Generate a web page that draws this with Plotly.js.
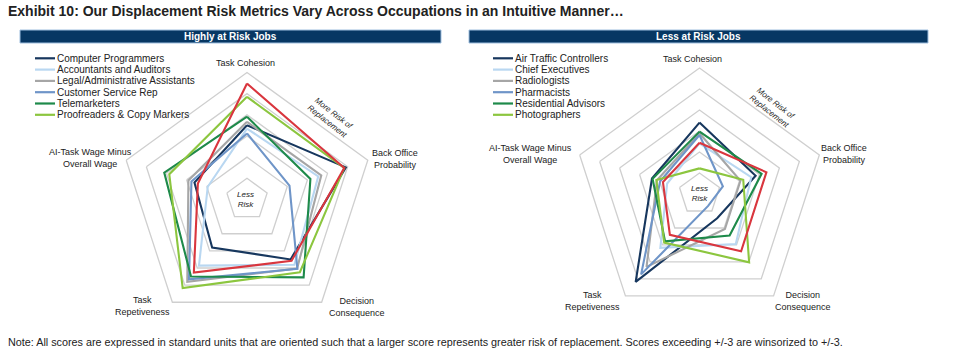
<!DOCTYPE html>
<html><head><meta charset="utf-8">
<script src="https://cdn.plot.ly/plotly-3.0.1.min.js"></script>
<style>html,body{margin:0;padding:0;background:#fff}#chart{width:960px;height:352px}</style>
</head><body><div id="chart"></div>
<script>
// ---- data ----
const axisNames = ["Task Cohesion","Back Office Probability","Decision Consequence","Task Repetiveness","AI-Task Wage Minus Overall Wage"];
const axisLabels = ["Task Cohesion","Back Office<br>Probability","Decision<br>Consequence","Task<br>Repetiveness","AI-Task Wage Minus<br>Overall Wage"];

const highNames = ["Computer Programmers","Accountants and Auditors","Legal/Administrative Assistants","Customer Service Rep","Telemarketers","Proofreaders & Copy Markers"];
const highComputerProgrammers = [0.51, 1.91, 0.50, -0.20, -0.39];
const highAccountants        = [0.35, 0.54, 0.81, 0.86, -1.05];
const highLegalAdmin         = [0.67, 0.69, 1.03, 1.80, -0.09];
const highCustomerService    = [0.12, -0.89, 1.05, 1.66, -0.24];
const highTelemarketers      = [0.91, 0.15, 1.55, 1.50, 1.11];
const highProofreaders       = [1.85, 1.83, 1.25, 2.17, 0.86];
const highUnlabeledRed       = [2.48, 1.83, 0.58, 1.27, -0.56];

const lowNames = ["Air Traffic Controllers","Chief Executives","Radiologists","Pharmacists","Residential Advisors","Photographers"];
const lowAirTraffic          = [0.40, -0.19, -1.57, 2.17, -0.62];
const lowChiefExecutives     = [-0.59, -0.41, -0.06, 0.17, -1.38];
const lowRadiologists        = [-0.11, -0.95, -0.94, 1.29, -0.87];
const lowPharmacists         = [-0.19, -1.83, -2.30, 1.73, -1.03];
const lowResidentialAdvisors = [-0.03, 0.11, -0.56, -0.21, -0.65];
const lowPhotographers       = [-1.78, -0.81, 1.02, -0.14, -0.84];
const lowUnlabeledRed        = [-0.56, 0.35, 0.37, -0.60, -1.17];

const seriesColors = ["#17375e","#b9d7f1","#a6a6a6","#6f95c8","#1e8a4a","#8cc63f"];
const redColor = "#d9363e";

// ---- helpers ----
const W = 960, H = 352;
const px = x => x / W;
const py = y => 1 - y / H;
const closeLoop = a => a.concat([a[0]]);
const thetaClosed = closeLoop(axisNames);

function radarTrace(vals, name, color, sub) {
  return {type:'scatterpolar', mode:'lines', r: closeLoop(vals), theta: thetaClosed,
    name: name, subplot: sub, showlegend: false, hoverinfo:'skip',
    line:{color: color, width: 2.1}};
}

const highSeries = [highComputerProgrammers, highAccountants, highLegalAdmin, highCustomerService, highTelemarketers, highProofreaders];
const lowSeries = [lowAirTraffic, lowChiefExecutives, lowRadiologists, lowPharmacists, lowResidentialAdvisors, lowPhotographers];

const data = [];
highSeries.forEach((s,i) => data.push(radarTrace(s, highNames[i], seriesColors[i], 'polar')));
data.push(radarTrace(highUnlabeledRed, '', redColor, 'polar'));
lowSeries.forEach((s,i) => data.push(radarTrace(s, lowNames[i], seriesColors[i], 'polar2')));
data.push(radarTrace(lowUnlabeledRed, '', redColor, 'polar2'));

const gridCol = "#cfcfcf";
function polarCfg(cx, cy, R) {
  return {
    domain: {x:[px(cx-R), px(cx+R)], y:[py(cy+R), py(cy-R)]},
    gridshape: 'linear', bgcolor: 'rgba(0,0,0,0)',
    radialaxis: {range:[-3,3], tickvals:[-2,-1,0,1,2], showticklabels:false, ticks:'', showline:false,
      gridcolor: gridCol, gridwidth: 1.3, angle: 90},
    angularaxis: {rotation: 90, direction: 'clockwise', showgrid: false, showticklabels: false, ticks: '',
      linecolor: gridCol, linewidth: 1.3}
  };
}

const labelFont = {family: "Liberation Sans, Arial, sans-serif", size: 9, color: "#222"};
const annotations = [];
const shapes = [];

// Main title
annotations.push({xref:'paper', yref:'paper', x: px(6), y: py(11), xanchor:'left', yanchor:'middle', showarrow:false,
  text:"<b>Exhibit 10: Our Displacement Risk Metrics Vary Across Occupations in an Intuitive Manner…</b>",
  font:{family:"Liberation Sans, Arial, sans-serif", size:14, color:"#222"}});

// Header bars
function headerBar(x0, x1, text) {
  shapes.push({type:'rect', xref:'paper', yref:'paper', x0: px(x0), x1: px(x1), y0: py(43), y1: py(30),
    fillcolor:"#073763", line:{color:"#9fbfdf", width:1}});
  annotations.push({xref:'paper', yref:'paper', x: px((x0+x1)/2), y: py(36.5), xanchor:'center', yanchor:'middle', showarrow:false,
    text:"<b>"+text+"</b>", font:{family:"Liberation Sans, Arial, sans-serif", size:10, color:"#fff"}});
}
headerBar(20, 441, "Highly at Risk Jobs");
headerBar(469, 928, "Less at Risk Jobs");

// Legends
function legend(x0, names) {
  names.forEach((n,i) => {
    const y = 58.3 + i*11.3;
    shapes.push({type:'line', xref:'paper', yref:'paper', x0: px(x0), x1: px(x0+20), y0: py(y), y1: py(y),
      line:{color: seriesColors[i], width: 2.2}});
    annotations.push({xref:'paper', yref:'paper', x: px(x0+20), y: py(y), xanchor:'left', yanchor:'middle', showarrow:false,
      text: n, font:{family:"Liberation Sans, Arial, sans-serif", size:10, color:"#222"}});
  });
}
legend(35, highNames);
legend(493, lowNames);

// Axis labels
function axisLabelAnns(pos) {
  pos.forEach((p,i) => annotations.push({xref:'paper', yref:'paper', x: px(p[0]), y: py(p[1]), xanchor:'center', yanchor:'middle',
    showarrow:false, text: axisLabels[i], font: labelFont}));
}
axisLabelAnns([[246,63],[395,159],[357,307],[142,306],[90,158]]);
axisLabelAnns([[692,59],[844,154],[803,301],[592,301],[530,154]]);

// Center & direction notes
function notes(cx, cy, mx, my) {
  annotations.push({xref:'paper', yref:'paper', x: px(cx), y: py(cy), xanchor:'center', yanchor:'middle', showarrow:false,
    text:"<i>Less<br>Risk</i>", font:{family:"Liberation Sans, Arial, sans-serif", size:8, color:"#222"}});
  annotations.push({xref:'paper', yref:'paper', x: px(mx), y: py(my), xanchor:'center', yanchor:'middle', showarrow:false,
    textangle: 38, text:"<i>More Risk of<br>Replacement</i>", font:{family:"Liberation Sans, Arial, sans-serif", size:8, color:"#222"}});
}
notes(246, 199, 331, 117);
notes(699, 193, 773, 107);

// Footnote
annotations.push({xref:'paper', yref:'paper', x: px(6), y: py(342), xanchor:'left', yanchor:'middle', showarrow:false,
  text:"Note: All scores are expressed in standard units that are oriented such that a larger score represents greater risk of replacement. Scores exceeding +/-3 are winsorized to +/-3.",
  font:{family:"Liberation Sans, Arial, sans-serif", size:10.8, color:"#222"}});

const layout = {
  width: W, height: H, margin:{l:0,r:0,t:0,b:0}, paper_bgcolor:'#fff', showlegend:false,
  polar: polarCfg(247, 199.5, 127),
  polar2: polarCfg(699.5, 194, 126),
  annotations: annotations, shapes: shapes
};
Plotly.newPlot('chart', data, layout, {staticPlot:true});
</script>
</body></html>
